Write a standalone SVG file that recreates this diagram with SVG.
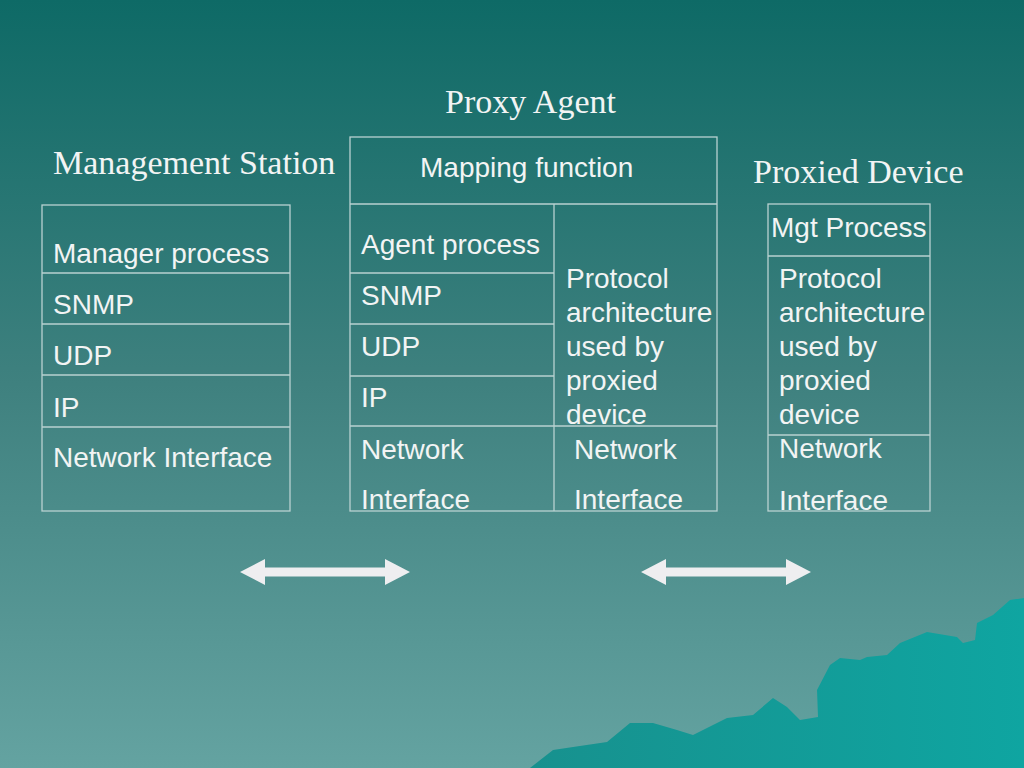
<svg xmlns="http://www.w3.org/2000/svg" width="1024" height="768" viewBox="0 0 1024 768">
<defs>
<linearGradient id="bg" x1="0" y1="0" x2="0" y2="1">
<stop offset="0" stop-color="#0e6a66"/>
<stop offset="0.5" stop-color="#3f817f"/>
<stop offset="1" stop-color="#64a3a1"/>
</linearGradient>
<linearGradient id="mtn" x1="0" y1="0" x2="1" y2="0">
<stop offset="0" stop-color="#17918e"/>
<stop offset="1" stop-color="#0fa5a1"/>
</linearGradient>
<polygon id="arrow" points="0,0 25,-13 25,-4.5 145,-4.5 145,-13 170,0 145,13 145,4.5 25,4.5 25,13"/>
</defs>
<style>
.box{fill:none;stroke:#b9d2d1;stroke-width:1.3}
.s{font-family:"Liberation Sans",Arial,sans-serif;font-size:28px;fill:#f2f4f4}
.t{font-family:"Liberation Serif","Times New Roman",serif;font-size:34px;fill:#f2f4f4}
.arr{fill:#eeeef0}
</style>
<rect width="1024" height="768" fill="url(#bg)"/>
<polygon fill="url(#mtn)" points="530,768 553,750 573,747 607,742 630,723 653,723 677,730 693,735 727,718 753,715 773,698 787,707 800,720 818,717 817,690 830,665 840,658 860,660 867,657 887,655 900,643 927,632 957,637 963,643 975,640 977,623 993,615 1010,600 1024,598 1024,768"/>

<text class="t" x="445" y="113">Proxy Agent</text>
<text class="t" x="53" y="174">Management Station</text>
<text class="t" x="753" y="183">Proxied Device</text>

<g id="management-station">
<rect class="box" x="42" y="205" width="248" height="306"/>
<line class="box" x1="42" y1="273" x2="290" y2="273"/>
<line class="box" x1="42" y1="324" x2="290" y2="324"/>
<line class="box" x1="42" y1="375" x2="290" y2="375"/>
<line class="box" x1="42" y1="427" x2="290" y2="427"/>
<text class="s" x="53" y="263">Manager process</text>
<text class="s" x="53" y="314">SNMP</text>
<text class="s" x="53" y="365">UDP</text>
<text class="s" x="53" y="417">IP</text>
<text class="s" x="53" y="467">Network Interface</text>
</g>

<g id="proxy-agent">
<rect class="box" x="350" y="137" width="367" height="374"/>
<line class="box" x1="350" y1="204" x2="717" y2="204"/>
<line class="box" x1="554" y1="204" x2="554" y2="511"/>
<line class="box" x1="350" y1="273" x2="554" y2="273"/>
<line class="box" x1="350" y1="324" x2="554" y2="324"/>
<line class="box" x1="350" y1="376" x2="554" y2="376"/>
<line class="box" x1="350" y1="426" x2="717" y2="426"/>
<text class="s" x="420" y="177">Mapping function</text>
<text class="s" x="361" y="254">Agent process</text>
<text class="s" x="361" y="305">SNMP</text>
<text class="s" x="361" y="356">UDP</text>
<text class="s" x="361" y="407">IP</text>
<text class="s" x="361" y="459">Network</text>
<text class="s" x="361" y="509">Interface</text>
<text class="s" x="566" y="288">Protocol</text>
<text class="s" x="566" y="322">architecture</text>
<text class="s" x="566" y="356">used by</text>
<text class="s" x="566" y="390">proxied</text>
<text class="s" x="566" y="424">device</text>
<text class="s" x="574" y="459">Network</text>
<text class="s" x="574" y="509">Interface</text>
</g>

<g id="proxied-device">
<rect class="box" x="768" y="204" width="162" height="307"/>
<line class="box" x1="768" y1="256" x2="930" y2="256"/>
<line class="box" x1="768" y1="435" x2="930" y2="435"/>
<text class="s" x="771" y="237">Mgt Process</text>
<text class="s" x="779" y="288">Protocol</text>
<text class="s" x="779" y="322">architecture</text>
<text class="s" x="779" y="356">used by</text>
<text class="s" x="779" y="390">proxied</text>
<text class="s" x="779" y="424">device</text>
<text class="s" x="779" y="458">Network</text>
<text class="s" x="779" y="510">Interface</text>
</g>

<g id="connectors">
<use href="#arrow" class="arr" x="240" y="572"/>
<use href="#arrow" class="arr" x="641" y="572"/>
</g>
</svg>
